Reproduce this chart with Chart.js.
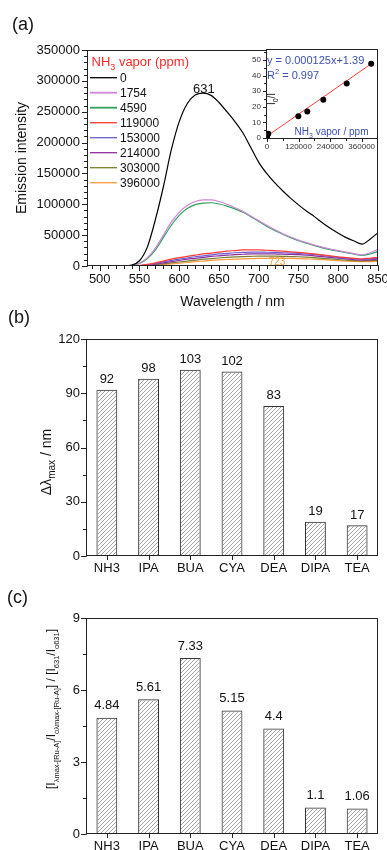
<!DOCTYPE html>
<html><head><meta charset="utf-8">
<script src="https://cdn.jsdelivr.net/npm/chart.js@4.4.1/dist/chart.umd.min.js"></script>
<style>
html,body{margin:0;padding:0;background:#fff;width:387px;height:850px;overflow:hidden;position:relative}
canvas{position:absolute;left:0}
</style></head><body>
<canvas id="ca" width="387" height="320" style="top:0"></canvas>
<canvas id="ci" width="387" height="160" style="top:0"></canvas>
<canvas id="cb" width="387" height="290" style="top:300px"></canvas>
<canvas id="cc" width="387" height="260" style="top:590px"></canvas>
<script>
// ---------- DATA ----------
const wavelengths = [480,490,500,510,520,530,540,550,560,570,580,590,600,610,620,630,640,650,660,670,680,690,700,710,720,730,740,750,760,770,780,790,800,810,820,830,840,850];
const ppm0      = [0,0,0,0,0,200,1500,8500,31000,75000,128000,188000,234000,263000,277000,280000,276500,265000,250000,234000,216000,192000,168000,150000,135000,122000,110000,99000,89000,80000,70000,61000,53000,46000,40500,35500,43500,54000];
const ppm1754   = [0,0,0,0,0,0,500,4500,13500,29000,50000,71000,87000,98000,104500,107000,107000,104500,100000,94500,88500,81000,73500,66000,59000,52500,47000,42000,38000,34000,30500,27500,25000,22500,20000,18000,21500,27000];
const ppm4590   = [0,0,0,0,0,0,400,4000,12000,26000,46000,66000,82000,93000,99500,102000,102500,100500,97000,92500,87000,80000,72000,64500,57500,51500,46000,41000,37000,33000,29500,26500,24000,21500,19000,17000,19500,23500];
const ppm119000 = [0,0,0,0,0,0,100,800,2500,5000,8000,11000,13500,15500,17500,19500,21000,22500,24000,25000,26000,26200,26000,25500,25000,24000,23000,22000,21000,19500,18000,16500,15000,13500,12500,11500,12500,14000];
const ppm153000 = [0,0,0,0,0,0,50,500,1800,4000,6500,9000,11000,13000,15000,16500,18000,19500,20500,21500,22000,22500,22500,22300,22000,21500,21000,20500,19500,18500,17000,15500,14000,12800,11500,10500,11500,13000];
const ppm214000 = [0,0,0,0,0,0,30,300,1200,3000,5000,7000,9000,11000,12500,14000,15500,16500,17500,18500,19000,19500,19800,19800,19500,19200,18800,18300,17500,16500,15200,14000,12800,11500,10200,9500,10000,11000];
const ppm303000 = [0,0,0,0,0,0,20,200,800,2000,3500,5000,6500,8000,9500,11000,12000,13000,14000,14800,15300,15700,16000,16000,15900,15700,15300,15000,14300,13500,12500,11500,10500,9500,8800,8300,8700,9300];
const ppm396000 = [0,0,0,0,0,0,10,100,500,1200,2200,3300,4500,5700,7000,8000,9000,9800,10500,11000,11600,12000,12300,12500,12600,12500,12300,12000,11500,11000,10300,9500,8800,8000,7400,7000,7200,7600];
const seriesLabels = ['0','1754','4590','119000','153000','214000','303000','396000'];
const xTicksA = [500,550,600,650,700,750,800,850];
const yTicksA = [0,50000,100000,150000,200000,250000,300000,350000];

const concPpm = [0,1754,4590,119000,153000,214000,303000,396000];
const i0Ratio = [1.0,2.6,2.8,14.0,17.0,24.5,35.0,47.5];
const fitX = [0,396000];
const fitY = [1.3,47.5];
const xTicksInset = [0,120000,240000,360000];
const yTicksInset = [0,10,20,30,40,50];

const amines = ['NH3','IPA','BUA','CYA','DEA','DIPA','TEA'];
const shiftNm = [92,98,103,102,83,19,17];
const yTicksB = [0,30,60,90,120];
const ratioVals = [4.84,5.61,7.33,5.15,4.4,1.1,1.06];
const yTicksC = [0,3,6,9];

// ---------- STYLE ----------
const FAM = '"Liberation Sans", Arial, sans-serif';
const fnt = (s) => s + 'px ' + FAM;
const colors = ['#000000','#cc88d4','#2fa060','#ff3a3a','#6e5fd0','#8a2e9e','#7d7d35','#ff9a3c'];
const AXC = '#222';

function drawRich(ctx, x, y, segs, o) {
  ctx.save();
  ctx.translate(x, y);
  if (o.rotate) ctx.rotate(-Math.PI / 2);
  ctx.fillStyle = o.color || '#111';
  ctx.textBaseline = 'alphabetic';
  ctx.textAlign = 'left';
  let total = 0;
  segs.forEach(s => { ctx.font = fnt(s.size); s.w = ctx.measureText(s.t).width; total += s.w; });
  let cx = o.align === 'center' ? -total / 2 : 0;
  const base = 0.36 * o.main;
  segs.forEach(s => { ctx.font = fnt(s.size); ctx.fillText(s.t, cx, base + (s.dy || 0)); cx += s.w; });
  ctx.restore();
}
function box(ctx, a) {
  ctx.save(); ctx.strokeStyle = AXC; ctx.lineWidth = 1;
  ctx.strokeRect(Math.round(a.left) + 0.5, Math.round(a.top) + 0.5, Math.round(a.right - a.left) - 1, Math.round(a.bottom - a.top) - 1);
  ctx.restore();
}
function yTickMarks(ctx, scale, left, vals, len) {
  ctx.save(); ctx.strokeStyle = AXC; ctx.lineWidth = 1; ctx.beginPath();
  vals.forEach(v => { const p = Math.round(scale.getPixelForValue(v)) + 0.5; ctx.moveTo(left - len, p); ctx.lineTo(left + 0.5, p); });
  ctx.stroke(); ctx.restore();
}
function xTickMarks(ctx, scale, bottom, pix, len) {
  ctx.save(); ctx.strokeStyle = AXC; ctx.lineWidth = 1; ctx.beginPath();
  pix.forEach(p0 => { const p = Math.round(p0) + 0.5; ctx.moveTo(p, bottom - 0.5); ctx.lineTo(p, bottom + len); });
  ctx.stroke(); ctx.restore();
}
function range(a, b, s) { const r = []; for (let v = a; v <= b + 1e-9; v += s) r.push(+v.toFixed(6)); return r; }
function panelLabel(ctx, t, x, y) {
  ctx.save(); ctx.font = fnt(18); ctx.fillStyle = '#111'; ctx.textBaseline = 'middle'; ctx.textAlign = 'left';
  ctx.fillText(t, x, y); ctx.restore();
}
const fixedTicks = (arr) => (a) => { a.ticks = arr.map(v => ({ value: v })); };
const fitW = (w) => (s) => { s.width = w; s.paddingTop = 0; s.paddingBottom = 0; };
const fitH = (h) => (s) => { s.height = h; s.paddingLeft = 0; s.paddingRight = 0; };

// ---------- PANEL A ----------
const seriesA = [ppm0, ppm1754, ppm4590, ppm119000, ppm153000, ppm214000, ppm303000, ppm396000];
const plugA = {
  id: 'plugA',
  afterDraw(chart) {
    const { ctx, chartArea: a, scales: { x, y } } = chart;
    box(ctx, a);
    yTickMarks(ctx, y, a.left, range(0, 350000, 10000), 3);
    yTickMarks(ctx, y, a.left, yTicksA, 5);
    xTickMarks(ctx, x, a.bottom, range(490, 850, 10).map(v => x.getPixelForValue(v)), 3);
    xTickMarks(ctx, x, a.bottom, xTicksA.map(v => x.getPixelForValue(v)), 5);
    panelLabel(ctx, '(a)', 12, 25);
    // legend
    drawRich(ctx, 91.5, 61.7, [{ t: 'NH', size: 13 }, { t: '3', size: 9, dy: 3.5 }, { t: ' vapor (ppm)', size: 13 }], { main: 13, color: '#ff2a2a' });
    seriesLabels.forEach((lab, i) => {
      const yy = 77.7 + 15 * i;
      ctx.save();
      ctx.strokeStyle = colors[i]; ctx.lineWidth = (i === 1 || i === 2) ? 1.8 : 1.3;
      ctx.beginPath(); ctx.moveTo(90, yy); ctx.lineTo(117, yy); ctx.stroke();
      ctx.font = fnt(12); ctx.fillStyle = '#111'; ctx.textBaseline = 'middle'; ctx.textAlign = 'left';
      ctx.fillText(lab, 120, yy + 0.5);
      ctx.restore();
    });
    // peak annotations
    ctx.save();
    ctx.font = fnt(13); ctx.fillStyle = '#111'; ctx.textAlign = 'center'; ctx.textBaseline = 'middle';
    ctx.fillText('631', x.getPixelForValue(631), 89);
    ctx.font = fnt(10); ctx.fillStyle = '#ff9a3c';
    ctx.fillText('723', x.getPixelForValue(723), 262);
    ctx.restore();
  }
};
new Chart(document.getElementById('ca'), {
  type: 'line',
  data: {
    datasets: seriesA.map((s, i) => ({
      label: seriesLabels[i],
      data: wavelengths.map((w, j) => ({ x: w, y: s[j] })),
      borderColor: colors[i], borderWidth: 1.2, pointRadius: 0, fill: false,
      cubicInterpolationMode: 'monotone'
    }))
  },
  options: {
    responsive: false, animation: false, events: [],
    layout: { padding: { top: 50, right: 9, left: 0, bottom: 0 } },
    plugins: { legend: { display: false }, tooltip: { enabled: false } },
    scales: {
      x: {
        type: 'linear', min: 484, max: 850,
        afterBuildTicks: fixedTicks(xTicksA), afterFit: fitH(54),
        grid: { display: false, drawTicks: false }, border: { display: false },
        ticks: { padding: 6, color: '#111', font: { family: FAM, size: 13 }, maxRotation: 0, autoSkip: false, callback: v => String(v) },
        title: { display: true, text: 'Wavelength / nm', color: '#111', font: { family: FAM, size: 14 }, padding: { top: 0, bottom: 9.6 } }
      },
      y: {
        type: 'linear', min: 0, max: 350000,
        afterBuildTicks: fixedTicks(yTicksA), afterFit: fitW(87),
        grid: { display: false, drawTicks: false }, border: { display: false },
        ticks: { padding: 7, color: '#111', font: { family: FAM, size: 13 }, autoSkip: false, callback: v => String(v) },
        title: { display: true, text: 'Emission intensity', color: '#111', font: { family: FAM, size: 14 }, padding: { top: 13.6, bottom: 0 } }
      }
    }
  },
  plugins: [plugA]
});

// ---------- INSET ----------
const blueTxt = '#3b4fb0';
const plugI = {
  id: 'plugI',
  beforeDraw(chart) {
    const { ctx, chartArea: a } = chart;
    ctx.save(); ctx.fillStyle = '#fff'; ctx.fillRect(a.left, a.top, a.right - a.left, a.bottom - a.top); ctx.restore();
  },
  afterDraw(chart) {
    const { ctx, chartArea: a, scales: { x, y } } = chart;
    box(ctx, a);
    yTickMarks(ctx, y, a.left, range(0, 55, 5), 2);
    yTickMarks(ctx, y, a.left, yTicksInset, 3);
    xTickMarks(ctx, x, a.bottom, range(0, 420000, 60000).map(v => x.getPixelForValue(v)), 2);
    xTickMarks(ctx, x, a.bottom, xTicksInset.map(v => x.getPixelForValue(v)), 3);
    drawRich(ctx, 267, 60, [{ t: 'y = 0.000125x+1.39', size: 11 }], { main: 11, color: blueTxt });
    drawRich(ctx, 267, 75, [{ t: 'R', size: 11 }, { t: '2', size: 7.5, dy: -4.5 }, { t: ' = 0.997', size: 11 }], { main: 11, color: blueTxt });
    drawRich(ctx, 271, 99, [{ t: 'I', size: 10 }, { t: '0', size: 7, dy: 3 }, { t: '/I', size: 10 }], { main: 10, color: '#222', rotate: true, align: 'center' });
    drawRich(ctx, 331.5, 131, [{ t: 'NH', size: 10 }, { t: '3', size: 7, dy: 3 }, { t: ' vapor / ppm', size: 10 }], { main: 10, color: blueTxt, align: 'center' });
  }
};
new Chart(document.getElementById('ci'), {
  type: 'scatter',
  data: {
    datasets: [
      { data: concPpm.map((c, i) => ({ x: c, y: i0Ratio[i] })), pointRadius: 3, backgroundColor: '#000', borderColor: '#000', pointBorderWidth: 0, showLine: false, order: 0 },
      { type: 'line', data: fitX.map((v, i) => ({ x: v, y: fitY[i] })), borderColor: '#ff3b3b', borderWidth: 1, pointRadius: 0, fill: false, order: 1 }
    ]
  },
  options: {
    responsive: false, animation: false, events: [],
    layout: { padding: { top: 49, right: 9, left: 0, bottom: 0 } },
    plugins: { legend: { display: false }, tooltip: { enabled: false } },
    scales: {
      x: {
        type: 'linear', min: -4000, max: 422000,
        afterBuildTicks: fixedTicks(xTicksInset), afterFit: fitH(21),
        grid: { display: false, drawTicks: false }, border: { display: false },
        ticks: { padding: 3, color: '#333', font: { family: FAM, size: 8 }, maxRotation: 0, autoSkip: false, callback: v => String(v) }
      },
      y: {
        type: 'linear', min: -0.6, max: 57,
        afterBuildTicks: fixedTicks(yTicksInset), afterFit: fitW(266),
        grid: { display: false, drawTicks: false }, border: { display: false },
        ticks: { padding: 5, color: '#333', font: { family: FAM, size: 8 }, autoSkip: false, callback: v => String(v) }
      }
    }
  },
  plugins: [plugI]
});

// ---------- BAR PANELS ----------
function hatch(canvasId) {
  const c = document.createElement('canvas'); c.width = 4; c.height = 4;
  const g = c.getContext('2d');
  g.strokeStyle = '#8c8c8c'; g.lineWidth = 0.8;
  g.beginPath();
  g.moveTo(0, 4); g.lineTo(4, 0);
  g.moveTo(-1, 1); g.lineTo(1, -1);
  g.moveTo(3, 5); g.lineTo(5, 3);
  g.stroke();
  return document.getElementById(canvasId).getContext('2d').createPattern(c, 'repeat');
}
function barPanel(id, values, yMax, yTicks, minorStep, label, labelPos, gap, titleSegs, titlePos, titleMain, top, bottomH) {
  const plug = {
    id: 'plug' + id,
    afterDatasetsDraw(chart) {
      const { ctx } = chart;
      const meta = chart.getDatasetMeta(0);
      ctx.save(); ctx.font = fnt(13); ctx.fillStyle = '#111'; ctx.textAlign = 'center'; ctx.textBaseline = 'middle';
      meta.data.forEach((bar, i) => ctx.fillText(String(chart.data.datasets[0].data[i]), bar.x, bar.y - gap));
      ctx.restore();
    },
    afterDraw(chart) {
      const { ctx, chartArea: a, scales: { x, y } } = chart;
      box(ctx, a);
      yTickMarks(ctx, y, a.left, range(0, yMax, minorStep), 3);
      yTickMarks(ctx, y, a.left, yTicks, 5);
      xTickMarks(ctx, x, a.bottom, amines.map((_, i) => x.getPixelForValue(i)), 4);
      panelLabel(ctx, label, labelPos[0], labelPos[1]);
      drawRich(ctx, titlePos[0], titlePos[1], titleSegs, { main: titleMain, color: '#111', rotate: true, align: 'center' });
    }
  };
  new Chart(document.getElementById(id), {
    type: 'bar',
    data: {
      labels: amines,
      datasets: [{ data: values, backgroundColor: hatch(id), borderColor: '#333', borderWidth: 1, borderSkipped: false, barPercentage: 0.5, categoryPercentage: 1.0 }]
    },
    options: {
      responsive: false, animation: false, events: [],
      layout: { padding: { top: top, right: 9, left: 0, bottom: 0 } },
      plugins: { legend: { display: false }, tooltip: { enabled: false } },
      scales: {
        x: {
          type: 'category', offset: true, afterFit: fitH(bottomH),
          grid: { display: false, drawTicks: false }, border: { display: false },
          ticks: { padding: 5, color: '#111', font: { family: FAM, size: 13 }, maxRotation: 0, autoSkip: false }
        },
        y: {
          type: 'linear', min: 0, max: yMax,
          afterBuildTicks: fixedTicks(yTicks), afterFit: fitW(86),
          grid: { display: false, drawTicks: false }, border: { display: false },
          ticks: { padding: 6, color: '#111', font: { family: FAM, size: 13 }, autoSkip: false, callback: v => String(v) }
        }
      }
    },
    plugins: [plug]
  });
}
barPanel('cb', shiftNm, 120, yTicksB, 15, '(b)', [8, 18], 10,
  [{ t: 'Δλ', size: 14 }, { t: 'max', size: 10, dy: 4 }, { t: ' / nm', size: 14 }], [46, 162], 14, 39, 34);
barPanel('cc', ratioVals, 9, yTicksC, 1.5, '(c)', [7, 8], 12,
  [{ t: '[I', size: 12 }, { t: 'λmax-[Ru-A]', size: 7.5, dy: 3.5 }, { t: '/I', size: 12 }, { t: 'oλmax-[Ru-A]', size: 7.5, dy: 3.5 },
   { t: '] / [I', size: 12 }, { t: '631', size: 7.5, dy: 3.5 }, { t: '/I', size: 12 }, { t: 'o631', size: 7.5, dy: 3.5 }, { t: ']', size: 12 }],
  [51, 119], 12, 28, 16);
</script>
</body></html>
